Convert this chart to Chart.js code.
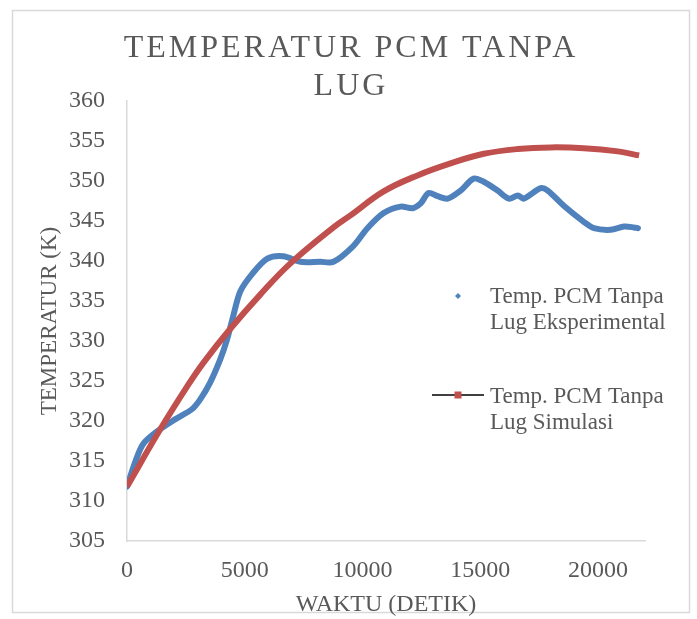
<!DOCTYPE html>
<html>
<head>
<meta charset="utf-8">
<script src="https://cdn.jsdelivr.net/npm/chart.js@4.4.1/dist/chart.umd.min.js"></script>
<style>
  html, body { margin: 0; padding: 0; background: #ffffff; }
  #wrap { width: 697px; height: 619px; position: relative; }
</style>
</head>
<body>
<div id="wrap"><canvas id="c" width="697" height="619"></canvas></div>
<script>
// ---- Data ----
const chartTitle = ['TEMPERATUR PCM TANPA', 'LUG'];
const xTitle = 'WAKTU (DETIK)';
const yTitle = 'TEMPERATUR (K)';
const seriesNames = [['Temp. PCM Tanpa', 'Lug Eksperimental'], ['Temp. PCM Tanpa', 'Lug Simulasi']];

const expTime = [0, 340, 680, 1280, 2040, 2770, 3110, 3530, 3960, 4250, 4510, 4810, 5320, 5960, 6640, 7360, 8210, 8770, 9620, 10210, 10900, 11620, 12130, 12470, 12810, 13190, 13620, 14170, 14720, 15150, 15740, 16220, 16600, 16850, 17570, 17870, 18550, 19400, 19830, 20550, 21110, 21530, 21700];
const expTemp = [311.8, 314.8, 317.1, 318.7, 320.2, 321.5, 322.7, 324.8, 327.7, 330.2, 333.1, 336.2, 338.4, 340.3, 340.6, 339.9, 339.9, 339.9, 341.9, 344.1, 346.0, 346.8, 346.6, 347.2, 348.5, 348.1, 347.8, 348.8, 350.3, 349.9, 348.8, 347.8, 348.2, 347.8, 349.1, 348.8, 346.9, 344.9, 344.1, 343.9, 344.3, 344.2, 344.1];

const simTime = [0, 1400, 2550, 3250, 4380, 5660, 6940, 8770, 9490, 10900, 12340, 13740, 15150, 16600, 18000, 19400, 20850, 21750];
const simTemp = [311.8, 318.9, 324.3, 327.3, 331.5, 335.8, 339.7, 344.2, 345.7, 348.7, 350.7, 352.2, 353.4, 354.0, 354.2, 354.1, 353.7, 353.2];

const xTickValues = [0, 5000, 10000, 15000, 20000];
const xMin = 0, xMax = 22000;
const yMin = 305, yMax = 360, yStep = 5;

// ---- Styles ----
const FONT = '"Liberation Serif", "Times New Roman", serif';
const TEXT = '#595959';
const BLUE = '#4F81BD';
const RED = '#C0504D';
const AXIS = '#d9d9d9';

const expData = expTime.map((t, i) => ({ x: t, y: expTemp[i] }));
const simData = simTime.map((t, i) => ({ x: t, y: simTemp[i] }));

const decor = {
  id: 'decor',
  beforeDraw(chart) {
    const ctx = chart.ctx;
    ctx.save();
    ctx.fillStyle = '#ffffff';
    ctx.fillRect(0, 0, chart.width, chart.height);
    ctx.strokeStyle = AXIS;
    ctx.lineWidth = 1.5;
    ctx.beginPath();
    ctx.rect(12.5, 10.5, 677, 602);
    ctx.stroke();
    ctx.restore();
  },
  afterDraw(chart) {
    const ctx = chart.ctx;
    ctx.save();
    // Title
    ctx.fillStyle = TEXT;
    ctx.font = '32px ' + FONT;
    ctx.textAlign = 'center';
    ctx.textBaseline = 'middle';
    try { ctx.letterSpacing = '3px'; } catch (e) {}
    ctx.fillText(chartTitle[0], 351, 49);
    ctx.fillText(chartTitle[1], 351, 87);
    try { ctx.letterSpacing = '0px'; } catch (e) {}

    // Legend
    ctx.font = '23px ' + FONT;
    ctx.textAlign = 'left';
    ctx.textBaseline = 'middle';
    const tx = 490;
    ctx.fillStyle = BLUE;
    ctx.beginPath();
    const dx = 458, dy = 296, r = 3;
    ctx.moveTo(dx, dy - r); ctx.lineTo(dx + r, dy); ctx.lineTo(dx, dy + r); ctx.lineTo(dx - r, dy);
    ctx.closePath(); ctx.fill();
    ctx.fillStyle = TEXT;
    ctx.fillText(seriesNames[0][0], tx, 297);
    ctx.fillText(seriesNames[0][1], tx, 323);
    ctx.strokeStyle = '#000000';
    ctx.lineWidth = 1.5;
    ctx.beginPath(); ctx.moveTo(432, 395); ctx.lineTo(484, 395); ctx.stroke();
    ctx.fillStyle = RED;
    ctx.fillRect(454.5, 391.5, 7, 7);
    ctx.fillStyle = TEXT;
    ctx.fillText(seriesNames[1][0], tx, 397);
    ctx.fillText(seriesNames[1][1], tx, 423);
    ctx.restore();
  }
};

new Chart(document.getElementById('c'), {
  type: 'scatter',
  data: {
    datasets: [
      {
        label: seriesNames[0].join(' '),
        data: expData,
        showLine: true,
        borderColor: BLUE,
        backgroundColor: BLUE,
        borderWidth: 6,
        pointRadius: 0,
        tension: 0.3,
        borderCapStyle: 'round',
        borderJoinStyle: 'round',
        order: 2
      },
      {
        label: seriesNames[1].join(' '),
        data: simData,
        showLine: true,
        borderColor: RED,
        backgroundColor: RED,
        borderWidth: 6,
        pointRadius: 0,
        tension: 0.4,
        borderCapStyle: 'butt',
        order: 1
      }
    ]
  },
  options: {
    responsive: false,
    animation: false,
    devicePixelRatio: 1,
    layout: { padding: { left: 24, right: 52, top: 101, bottom: 0 } },
    plugins: {
      legend: { display: false },
      title: { display: false },
      tooltip: { enabled: false }
    },
    scales: {
      x: {
        type: 'linear',
        min: xMin, max: xMax,
        afterBuildTicks(scale) {
          scale.ticks = xTickValues.map(v => ({ value: v }));
        },
        afterFit(scale) { scale.height = 78; },
        ticks: { color: TEXT, font: { family: FONT, size: 24 }, padding: 15, maxRotation: 0, minRotation: 0, autoSkip: false,
                 callback: (v) => String(v) },
        grid: { drawOnChartArea: false, drawTicks: false },
        border: { display: true, color: AXIS, width: 1.5 },
        title: { display: true, text: xTitle, color: TEXT, font: { family: FONT, size: 24 }, padding: { top: 0, bottom: 0 } }
      },
      y: {
        type: 'linear',
        min: yMin, max: yMax,
        afterFit(scale) { scale.width = 103; },
        ticks: { stepSize: yStep, color: TEXT, font: { family: FONT, size: 24 }, padding: 22 },
        grid: { drawOnChartArea: false, drawTicks: false },
        border: { display: true, color: AXIS, width: 1.5 },
        title: { display: true, text: yTitle, color: TEXT, font: { family: FONT, size: 23 }, padding: { top: 12, bottom: 0 } }
      }
    }
  },
  plugins: [decor]
});
</script>
</body>
</html>
